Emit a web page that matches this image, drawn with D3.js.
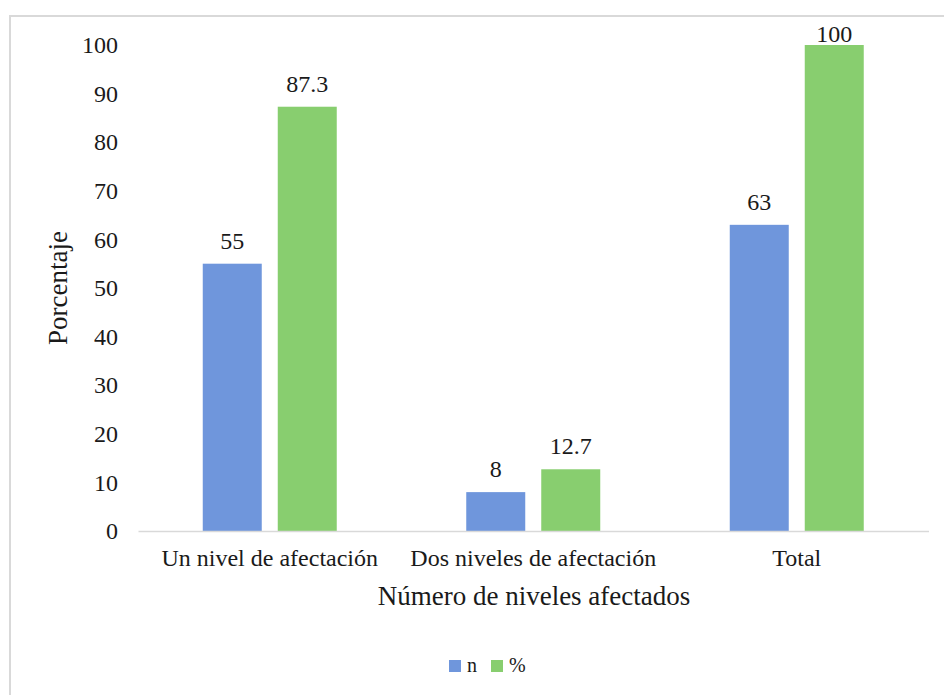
<!DOCTYPE html>
<html>
<head>
<meta charset="utf-8">
<script src="https://cdn.jsdelivr.net/npm/d3@7"></script>
<style>
  html, body { margin: 0; padding: 0; background: #fff; }
</style>
</head>
<body>
<svg id="chart" width="944" height="695"></svg>
<script>
// Categories and series values
const categories = ["Un nivel de afectación", "Dos niveles de afectación", "Total"];
const seriesNames = ["n", "%"];
const nValues = [55, 8, 63];
const pctValues = [87.3, 12.7, 100];
const pctLabels = ["87.3", "12.7", "100"];
const nLabels = ["55", "8", "63"];
const yTicks = [0, 10, 20, 30, 40, 50, 60, 70, 80, 90, 100];
const colors = ["#6f96dc", "#88ce6f"];

const FONT = "'Liberation Serif', 'Times New Roman', Tinos, serif";
const FONT_SIZE = 24;
const TITLE_SIZE = 27;
const TEXT_COLOR = "#1a1a1a";

const svg = d3.select("#chart");

// outer frame
svg.append("rect")
  .attr("x", 10).attr("y", 16)
  .attr("width", 960).attr("height", 720)
  .attr("fill", "none")
  .attr("stroke", "#d9d9d9")
  .attr("stroke-width", 2);

const plot = { left: 138, right: 928.5, top: 45, bottom: 531 };

const x0 = d3.scaleBand()
  .domain(categories)
  .range([plot.left, plot.right])
  .paddingInner(0)
  .paddingOuter(0);

const groupWidth = 134;
const x1 = d3.scaleBand()
  .domain(seriesNames)
  .range([0, groupWidth])
  .paddingInner(16 / 75);

const y = d3.scaleLinear().domain([0, 100]).range([plot.bottom, plot.top]);

const rows = categories.map((c, i) => ({
  category: c,
  values: [
    { key: "n", value: nValues[i], label: nLabels[i] },
    { key: "%", value: pctValues[i], label: pctLabels[i] }
  ]
}));

function styleText(sel, size) {
  sel.style("font-family", FONT)
    .style("font-size", size + "px")
    .attr("fill", TEXT_COLOR);
}

// Y axis (labels only)
const yAxis = d3.axisLeft(y).tickValues(yTicks).tickSize(0).tickPadding(20);
const gy = svg.append("g")
  .attr("transform", `translate(${plot.left},0)`)
  .call(yAxis);
gy.select(".domain").remove();
styleText(gy.selectAll("text"), FONT_SIZE);

// Bars
const groups = svg.append("g").selectAll("g")
  .data(rows)
  .join("g")
  .attr("transform", d => `translate(${x0(d.category) + (x0.bandwidth() - groupWidth) / 2},0)`);

groups.selectAll("rect")
  .data(d => d.values)
  .join("rect")
  .attr("x", d => x1(d.key))
  .attr("width", x1.bandwidth())
  .attr("y", d => y(d.value))
  .attr("height", d => y(0) - y(d.value))
  .attr("fill", (d, i) => colors[i]);

// value labels sit above each bar, but are kept inside the frame
const valueLabels = groups.selectAll("text.val")
  .data(d => d.values)
  .join("text")
  .attr("class", "val")
  .attr("x", d => x1(d.key) + x1.bandwidth() / 2)
  .attr("y", d => Math.max(y(d.value) - 15, plot.top - 3))
  .attr("text-anchor", "middle")
  .text(d => d.label);
styleText(valueLabels, FONT_SIZE);

// X axis baseline and labels
const xAxis = d3.axisBottom(x0).tickSize(0).tickPadding(18);
const gx = svg.append("g")
  .attr("transform", `translate(0,${plot.bottom})`)
  .call(xAxis);
gx.select(".domain")
  .attr("stroke", "#d9d9d9")
  .attr("stroke-width", 1.5);
styleText(gx.selectAll("text"), FONT_SIZE);

// Axis titles
styleText(svg.append("text")
  .attr("x", 534)
  .attr("y", 605)
  .attr("text-anchor", "middle")
  .text("Número de niveles afectados"), TITLE_SIZE);

styleText(svg.append("text")
  .attr("transform", `translate(67,${(plot.top + plot.bottom) / 2}) rotate(-90)`)
  .attr("text-anchor", "middle")
  .text("Porcentaje"), TITLE_SIZE);

// Legend
const legend = svg.append("g").attr("transform", "translate(449,666)");
const legendItems = legend.selectAll("g")
  .data(seriesNames)
  .join("g")
  .attr("transform", (d, i) => `translate(${i * 42},0)`);
legendItems.append("rect")
  .attr("x", 0).attr("y", -6)
  .attr("width", 12).attr("height", 12)
  .attr("fill", (d, i) => colors[i]);
styleText(legendItems.append("text")
  .attr("x", 18).attr("y", 6)
  .text(d => d), 20);
</script>
</body>
</html>
